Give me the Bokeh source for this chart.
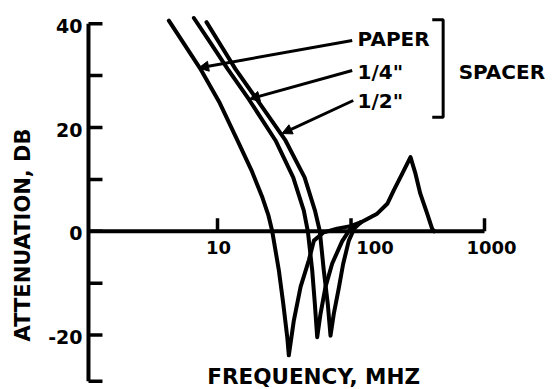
import math
from bokeh.plotting import figure
from bokeh.models import Range1d, Arrow, NormalHead
from bokeh.core.properties import value
from bokeh.embed import file_html
from bokeh.resources import INLINE

# ---- data ----
paper_freq = [4.32, 7.40, 10.4, 14.1, 18.0, 21.7, 24.1, 25.7, 28.8, 31.1, 33.3, 34.2,
              37.3, 41.9, 48.3, 52.7, 62.5, 78.7, 99, 118, 157, 187, 209, 242, 279,
              304, 330, 372, 405, 420]
paper_db = [40.6, 31.4, 24.7, 17.5, 11.7, 6.5, 3.0, 0.0, -7.5, -14.0, -20.4, -23.9,
            -17.2, -10.7, -5.6, -1.8, -0.2, 0.5, 1.0, 1.7, 3.4, 5.3, 7.9, 11.1, 14.3,
            11.1, 7.3, 3.4, 0.5, 0.0]

quarter_freq = [6.65, 8.86, 11.9, 17.2, 27.2, 36.9, 44.3, 47.5, 51.2, 53.6, 55.8,
                59.1, 64.4, 72.3, 85.9, 99, 118]
quarter_db = [41.1, 36.3, 31.3, 25.4, 17.5, 10.4, 4.0, 0.0, -7.5, -14.0, -20.4,
              -15.9, -10.7, -6.2, -1.9, 0.5, 1.7]

half_freq = [8.27, 10.5, 13.6, 21.0, 32.3, 44.9, 53.7, 58.4, 62.5, 67.0, 70.2,
             74.3, 81.2, 87.3, 96.3, 106, 118]
half_db = [40.3, 36.0, 31.3, 24.4, 17.5, 10.4, 4.0, 0.0, -7.5, -14.0, -20.1,
           -15.9, -10.8, -6.3, -1.8, 0.6, 1.7]

y_major_ticks = [-20, 0, 20, 40]
y_major_labels = ["-20", "0", "20", "40"]
y_minor_ticks = [-28.9, -10, 10, 30]
x_ticks = [10, 100, 1000]
x_tick_labels = ["10", "100", "1000"]
x_label_shift = [1, 24, 7]          # label offsets from their ticks (px)
axis_origin = 1.08                  # frequency where the dB axis stands
y_axis_span = [-28.9, 40]
x_axis_span = [1.08, 1000]

series_labels = ["PAPER", '1/4"', '1/2"']
group_label = "SPACER"

# ---- figure ----
FONT = value("DejaVu Sans")
p = figure(width=553, height=389, x_axis_type="log",
           x_range=Range1d(0.2368, 3287), y_range=Range1d(-30.48, 44.47),
           x_axis_location=None, y_axis_location=None,
           toolbar_location=None, output_backend="svg", min_border=0,
           outline_line_color=None, background_fill_color="white",
           border_fill_color="white")
p.xgrid.visible = False
p.ygrid.visible = False

ink = "black"

# axes lines
p.line(x=[axis_origin, axis_origin], y=y_axis_span, line_width=4, color=ink)
p.line(x=x_axis_span, y=[0, 0], line_width=4, color=ink)

# y ticks (pointing right)
p.ray(x=[axis_origin] * len(y_major_ticks), y=y_major_ticks, length=14,
      length_units="screen", angle=0, line_width=3.5, color=ink)
p.ray(x=[axis_origin] * len(y_minor_ticks), y=y_minor_ticks, length=14,
      length_units="screen", angle=0, line_width=3.5, color=ink)
# x ticks (pointing up)
p.ray(x=x_ticks, y=[0] * len(x_ticks), length=13, length_units="screen",
      angle=math.pi / 2, line_width=3.5, color=ink)

# tick labels
p.text(x=[axis_origin] * len(y_major_ticks), y=y_major_ticks, text=y_major_labels,
       x_offset=-6, y_offset=2, text_align="right", text_baseline="middle",
       text_font=FONT, text_font_style="bold", text_font_size="19px", color=ink)
p.text(x=x_ticks, y=[0] * len(x_ticks), text=x_tick_labels,
       x_offset=x_label_shift, y_offset=16, text_align="center", text_baseline="middle",
       text_font=FONT, text_font_style="bold", text_font_size="18px", color=ink)

# axis titles
p.text(x=[0.352], y=[0.0], text=["ATTENUATION,  DB"], angle=math.pi / 2,
       text_align="center", text_baseline="middle",
       text_font=FONT, text_font_style="bold", text_font_size="21px", color=ink)
p.text(x=[56.0], y=[-28.0], text=["FREQUENCY,  MHZ"],
       text_align="center", text_baseline="middle",
       text_font=FONT, text_font_style="bold", text_font_size="21.5px", color=ink)

# curves
for fx, dy in [(paper_freq, paper_db), (quarter_freq, quarter_db), (half_freq, half_db)]:
    p.line(x=fx, y=dy, line_width=4, color=ink, line_join="round", line_cap="round")

# labels with arrows
label_y = [36.96, 30.79, 25.2]
p.text(x=[112] * 3, y=label_y, text=series_labels, text_align="left",
       text_baseline="middle", text_font=FONT, text_font_style="bold",
       text_font_size="20px", color=ink)
p.text(x=[640], y=[30.79], text=[group_label], text_align="left",
       text_baseline="middle", text_font=FONT, text_font_style="bold",
       text_font_size="20px", color=ink)

arrow_starts = [(102.1, 36.76), (102.1, 30.98), (104.0, 25.2)]
arrow_ends = [(7.21, 31.46), (17.36, 25.49), (30.4, 18.84)]
for (xs, ys), (xe, ye) in zip(arrow_starts, arrow_ends):
    p.add_layout(Arrow(end=NormalHead(size=10, fill_color=ink, line_color=ink, line_width=1),
                       x_start=xs, y_start=ys, x_end=xe, y_end=ye,
                       line_width=3, line_color=ink))

# bracket
p.line(x=[406, 490, 490, 406], y=[40.75, 40.75, 21.98, 21.98], line_width=3, color=ink)

open("out.html", "w").write(file_html(p, INLINE))
